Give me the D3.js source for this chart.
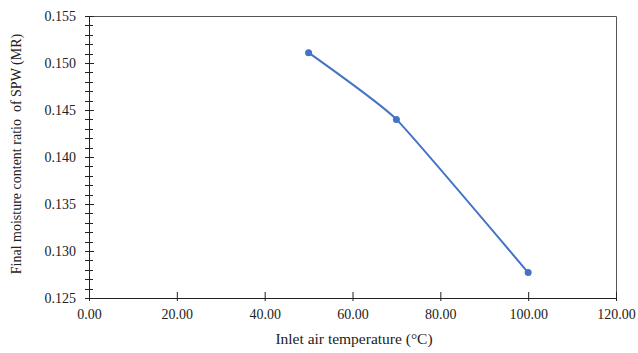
<!DOCTYPE html>
<html>
<head>
<meta charset="utf-8">
<script src="https://cdn.jsdelivr.net/npm/d3@7"></script>
<style>
  body { margin: 0; background: #fff; }
  svg text { font-family: "Liberation Serif", "Times New Roman", serif; fill: #222; }
</style>
</head>
<body>
<svg id="chart"></svg>
<script>
	// data
	var temperatures = [50, 70, 100];
	var moistureRatio = [0.1511, 0.1440, 0.1277];
	var xTicks = [0, 20, 40, 60, 80, 100, 120];
	var yTicks = [0.125, 0.130, 0.135, 0.140, 0.145, 0.150, 0.155];

	var width = 638, height = 353;
	var margin = {top: 16, right: 22, bottom: 55, left: 89};
	var w = width - margin.left - margin.right,
		h = height - margin.top - margin.bottom;

	var svg = d3.select("#chart")
		.attr("width", width)
		.attr("height", height)
		.append("g")
		.attr("transform", "translate(" + margin.left + "," + margin.top + ")");

	var x = d3.scaleLinear().domain([0, 120]).range([0, w]);
	var y = d3.scaleLinear().domain([0.125, 0.155]).range([h, 0]);

	// top and right border of plot area
	svg.append("path")
		.attr("d", "M0,0.5H" + (w + 0.5) + "V" + h)
		.attr("fill", "none")
		.attr("stroke", "#555")
		.attr("stroke-width", 1);

	// minor y ticks
	var minor = d3.range(0.125, 0.1551, 0.001);
	svg.append("g")
		.selectAll("line")
		.data(minor)
		.enter().append("line")
		.attr("x1", -4).attr("x2", 4)
		.attr("y1", function(d) { return Math.round(y(d)) + 0.5; })
		.attr("y2", function(d) { return Math.round(y(d)) + 0.5; })
		.attr("stroke", "#222");

	// y axis
	var yAxis = svg.append("g")
		.call(d3.axisLeft(y).tickValues(yTicks).tickFormat(d3.format(".3f")).tickSize(5).tickSizeOuter(0));
	yAxis.select(".domain").attr("stroke", "#222");
	yAxis.selectAll(".tick line").attr("x2", 5).attr("stroke", "#222");
	yAxis.selectAll("text").attr("font-size", 14).attr("x", -13).attr("fill", "#222");

	// x axis
	var xAxis = svg.append("g")
		.attr("transform", "translate(0," + h + ")")
		.call(d3.axisBottom(x).tickValues(xTicks).tickFormat(d3.format(".2f")).tickSize(3).tickSizeOuter(0));
	xAxis.select(".domain").attr("stroke", "#222");
	xAxis.selectAll(".tick line").attr("y1", -6).attr("stroke", "#222");
	xAxis.selectAll("text").attr("font-size", 14).attr("y", 11).attr("fill", "#222");

	var data = temperatures.map(function(t, i) { return {x: t, y: moistureRatio[i]}; });

	var line = d3.line()
		.x(function(d) { return x(d.x); })
		.y(function(d) { return y(d.y); })
		.curve(d3.curveCardinal.tension(0.6));

	svg.append("path")
		.datum(data)
		.attr("d", line)
		.attr("fill", "none")
		.attr("stroke", "#4472C4")
		.attr("stroke-width", 2);

	svg.selectAll(".dot")
		.data(data)
		.enter().append("circle")
		.attr("class", "dot")
		.attr("cx", function(d) { return x(d.x); })
		.attr("cy", function(d) { return y(d.y); })
		.attr("r", 3.5)
		.attr("fill", "#4472C4");

	// axis titles
	svg.append("text")
		.attr("x", 354 - margin.left)
		.attr("y", h + 46)
		.attr("text-anchor", "middle")
		.attr("font-size", 15.5)
		.text("Inlet air temperature (\u00B0C)");

	svg.append("text")
		.attr("transform", "rotate(-90)")
		.attr("x", -(154 - margin.top))
		.attr("y", -68)
		.attr("text-anchor", "middle")
		.attr("font-size", 14)
		.attr("xml:space", "preserve")
		.style("white-space", "pre")
		.text("Final moisture content ratio  of SPW (MR)");
</script>
</body>
</html>
